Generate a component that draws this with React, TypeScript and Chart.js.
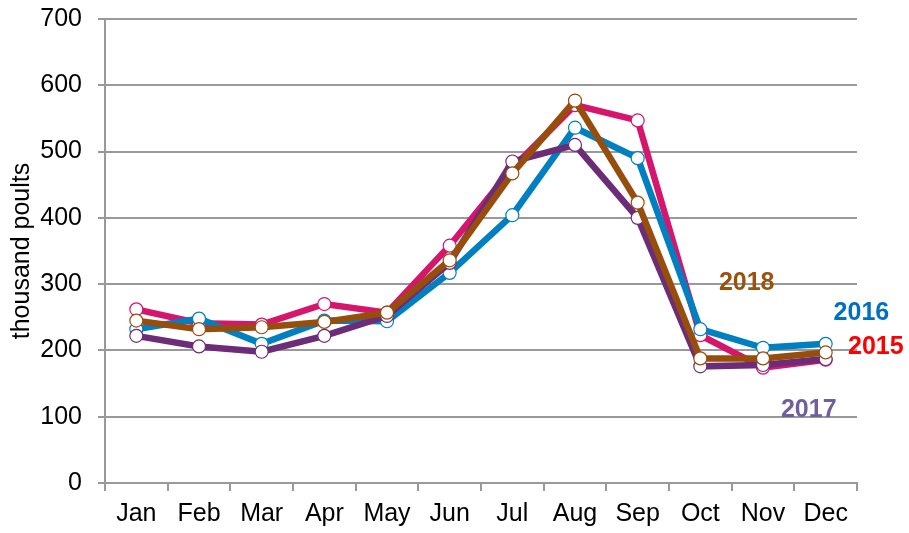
import React, { useEffect, useRef } from "react";
import { Chart, registerables } from "chart.js";

Chart.register(...registerables);

const categories = ["Jan", "Feb", "Mar", "Apr", "May", "Jun", "Jul", "Aug", "Sep", "Oct", "Nov", "Dec"];
const yTicks = [0, 100, 200, 300, 400, 500, 600, 700];

const s2015 = [262, 241, 239, 270, 257, 358, 475, 570, 547, 223, 174, 186];
const s2016 = [232, 248, 210, 245, 244, 317, 404, 536, 490, 232, 204, 210];
const s2017 = [222, 206, 198, 222, 252, 332, 485, 510, 400, 176, 178, 187];
const s2018 = [245, 232, 235, 243, 257, 336, 467, 577, 423, 188, 188, 197];

const seriesNames = ["2015", "2016", "2017", "2018"];
const lineColors = ["#D6156C", "#0080C0", "#6C2C78", "#974D0C"];
const textColors = ["#FF0000", "#0070C0", "#6F5F9F", "#9A530F"];

// label anchor positions in data space (category index, value)
const labelAnchors: [number, number][] = [
  [11.8, 205],
  [11.57, 256],
  [10.73, 110],
  [9.74, 301],
];

const FONT = "'Liberation Sans', Arial, sans-serif";

export default function App() {
  const ref = useRef<HTMLCanvasElement | null>(null);

  useEffect(() => {
    if (!ref.current) return;
    const all = [s2015, s2016, s2017, s2018];
    const labelPlugin = {
      id: "yearLabels",
      afterDatasetsDraw(chart: any) {
        const { ctx, scales } = chart;
        ctx.save();
        ctx.font = `bold 25px ${FONT}`;
        ctx.textAlign = "center";
        ctx.textBaseline = "middle";
        seriesNames.forEach((n, i) => {
          const [xi, yv] = labelAnchors[i];
          ctx.fillStyle = textColors[i];
          ctx.fillText(n, scales.x.getPixelForValue(xi), scales.y.getPixelForValue(yv));
        });
        ctx.restore();
      },
    };
    const chart = new Chart(ref.current, {
      type: "line",
      data: {
        labels: categories,
        datasets: all.map((d, i) => ({
          label: seriesNames[i],
          data: d,
          borderColor: lineColors[i],
          backgroundColor: "#FFFFFF",
          borderWidth: 6.5,
          pointRadius: 6.5,
          pointBorderWidth: 1.2,
          pointBorderColor: lineColors[i],
          pointBackgroundColor: "#FFFFFF",
          tension: 0,
          order: 3 - i,
        })),
      },
      options: {
        animation: false,
        responsive: false,
        devicePixelRatio: 1,
        layout: { padding: { left: 0, top: 19, right: 52, bottom: 0 } },
        plugins: { legend: { display: false }, tooltip: { enabled: false } },
        scales: {
          x: {
            offset: true,
            afterFit: (s: any) => { s.height = 50; s.paddingLeft = 0; s.paddingRight = 0; },
            grid: {
              offset: true,
              drawOnChartArea: false,
              color: "#999999",
              lineWidth: 2,
              tickLength: 8,
            },
            border: { color: "#999999", width: 2 },
            ticks: { color: "#000", font: { family: FONT, size: 25 }, padding: 8, maxRotation: 0, autoSkip: false },
          },
          y: {
            min: 0,
            max: 700,
            afterFit: (s: any) => { s.width = 105; s.paddingTop = 0; s.paddingBottom = 0; },
            afterBuildTicks: (s: any) => { s.ticks = yTicks.map((v) => ({ value: v })); },
            grid: { color: "#999999", lineWidth: 2, tickLength: 7 },
            border: { color: "#999999", width: 2 },
            ticks: { color: "#000", font: { family: FONT, size: 25 }, padding: 16 },
            title: {
              display: true,
              text: "thousand poults",
              color: "#000",
              font: { family: FONT, size: 25 },
              padding: { top: 7, bottom: 0 },
            },
          },
        },
      },
      plugins: [labelPlugin],
    });
    return () => chart.destroy();
  }, []);

  return (
    <div style={{ position: "fixed", left: 0, top: 0, width: 909, height: 533, background: "#fff" }}>
      <canvas ref={ref} width={909} height={533} style={{ width: 909, height: 533 }} />
    </div>
  );
}
